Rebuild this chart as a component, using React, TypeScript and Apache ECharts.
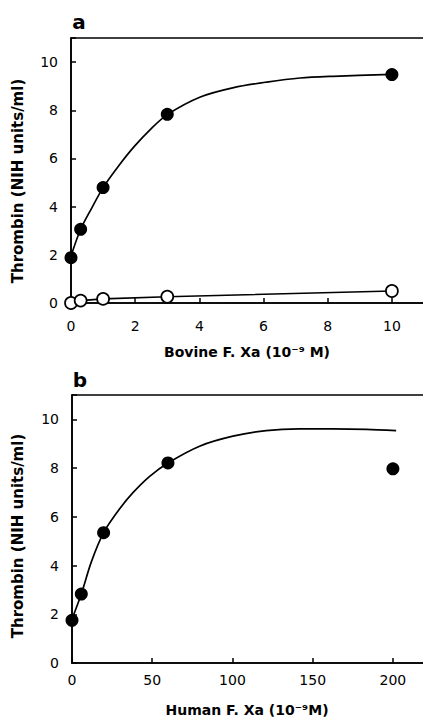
import React, { useEffect, useRef } from "react";
import * as echarts from "echarts";

// Panel a: bovine F. Xa (10^-9 M) vs thrombin (NIH units/ml)
const bovineX = [0, 0.3, 1, 3, 10];
const bovineFilled = [1.88, 3.06, 4.79, 7.83, 9.48];
const bovineOpen = [0, 0.1, 0.17, 0.26, 0.5];
const bovineCurveX = [0, 0.3, 0.65, 1, 1.5, 1.96, 2.5, 3, 4.03, 5.07, 6.1, 7.14, 8.17, 10];
const bovineCurveY = [1.95, 3.06, 3.95, 4.79, 5.72, 6.48, 7.24, 7.82, 8.55, 8.94, 9.17, 9.34, 9.41, 9.49];

// Panel b: human F. Xa (10^-9 M) vs thrombin
const humanX = [0, 5.8, 19.7, 59.8, 200];
const humanFilled = [1.75, 2.83, 5.35, 8.21, 7.97];
const humanCurveX = [0, 5.8, 12, 19.7, 29.6, 38, 48.4, 59.8, 79.5, 100.3, 121, 141.8, 162.6, 183.4, 202];
const humanCurveY = [1.8, 2.83, 4.14, 5.35, 6.32, 6.99, 7.66, 8.21, 8.9, 9.31, 9.54, 9.61, 9.61, 9.59, 9.54];

const yTicks = [0, 2, 4, 6, 8, 10];
const xTicksA = [0, 2, 4, 6, 8, 10];
const xTicksB = [0, 50, 100, 150, 200];

const FONT = "'DejaVu Sans', Verdana, sans-serif";

function pairs(xs: number[], ys: number[]) {
  return xs.map((x, i) => [x, ys[i]]);
}

export default function App() {
  const ref = useRef<HTMLDivElement>(null);
  useEffect(() => {
    if (!ref.current) return;
    const chart = echarts.init(ref.current, null, { renderer: "svg" });
    const axisCommon = {
      axisLine: { show: true, lineStyle: { color: "#000", width: 1.6 } },
      axisTick: { show: true, inside: true, length: 5, lineStyle: { color: "#000", width: 1.5 } },
      splitLine: { show: false },
    };
    const labelStyle = { color: "#000", fontSize: 14, fontFamily: FONT, fontWeight: "normal" as any };
    const fmt = (ticks: number[]) => (v: number) => (ticks.includes(v) ? String(v) : "");
    chart.setOption({
      animation: false,
      backgroundColor: "#fff",
      grid: [
        { left: 71, top: 38, width: 353, height: 265, show: true, borderColor: "#000", borderWidth: 1.6, backgroundColor: "transparent" },
        { left: 72, top: 395, width: 353, height: 268, show: true, borderColor: "#000", borderWidth: 1.6, backgroundColor: "transparent" },
      ],
      xAxis: [
        { type: "value", gridIndex: 0, min: 0, max: 11, interval: 2, ...axisCommon, axisLabel: { ...labelStyle, margin: 16, formatter: fmt(xTicksA) } },
        { type: "value", gridIndex: 1, min: 0, max: 220, interval: 50, ...axisCommon, axisLabel: { ...labelStyle, margin: 10, formatter: fmt(xTicksB) } },
      ],
      yAxis: [
        { type: "value", gridIndex: 0, min: 0, max: 11, interval: 2, ...axisCommon, axisLabel: { ...labelStyle, margin: 13, formatter: fmt(yTicks) } },
        { type: "value", gridIndex: 1, min: 0, max: 11, interval: 2, ...axisCommon, axisLabel: { ...labelStyle, margin: 13, formatter: fmt(yTicks) } },
      ],
      graphic: [
        { type: "text", x: 79, y: 22, style: { text: "a", font: `bold 20px ${FONT}`, fill: "#000", align: "center", verticalAlign: "middle" } },
        { type: "text", x: 80, y: 380, style: { text: "b", font: `bold 20px ${FONT}`, fill: "#000", align: "center", verticalAlign: "middle" } },
        { type: "text", x: 18, y: 181, rotation: Math.PI / 2, style: { text: "Thrombin (NIH units/ml)", font: `bold 15px ${FONT}`, fill: "#000", align: "center", verticalAlign: "middle" } },
        { type: "text", x: 18, y: 536, rotation: Math.PI / 2, style: { text: "Thrombin (NIH units/ml)", font: `bold 15px ${FONT}`, fill: "#000", align: "center", verticalAlign: "middle" } },
        { type: "text", x: 247, y: 352, style: { text: "Bovine F. Xa (10\u207B\u2079 M)", font: `bold 14px ${FONT}`, fill: "#000", align: "center", verticalAlign: "middle" } },
        { type: "text", x: 247, y: 710, style: { text: "Human F. Xa (10\u207B\u2079M)", font: `bold 14px ${FONT}`, fill: "#000", align: "center", verticalAlign: "middle" } },
      ],
      series: [
        {
          type: "line", xAxisIndex: 0, yAxisIndex: 0, data: pairs(bovineCurveX, bovineCurveY),
          smooth: 0.3, showSymbol: false, symbol: "none", lineStyle: { color: "#000", width: 1.7 }, z: 2,
        },
        {
          type: "scatter", xAxisIndex: 0, yAxisIndex: 0, data: pairs(bovineX, bovineFilled),
          symbol: "circle", symbolSize: 13, itemStyle: { color: "#000", opacity: 1 }, z: 4,
        },
        {
          type: "line", xAxisIndex: 0, yAxisIndex: 0, data: pairs(bovineX, bovineOpen),
          symbol: "circle", symbolSize: 12, showSymbol: true,
          lineStyle: { color: "#000", width: 1.6 },
          itemStyle: { color: "#fff", borderColor: "#000", borderWidth: 1.7, opacity: 1 }, z: 4,
        },
        {
          type: "line", xAxisIndex: 1, yAxisIndex: 1, data: pairs(humanCurveX, humanCurveY),
          smooth: 0.3, showSymbol: false, symbol: "none", lineStyle: { color: "#000", width: 1.7 }, z: 2,
        },
        {
          type: "scatter", xAxisIndex: 1, yAxisIndex: 1, data: pairs(humanX, humanFilled),
          symbol: "circle", symbolSize: 13, itemStyle: { color: "#000", opacity: 1 }, z: 4,
        },
      ],
    });
    return () => chart.dispose();
  }, []);
  return (
    <div style={{ position: "fixed", left: 0, top: 0, width: 423, height: 718, overflow: "hidden", background: "#fff" }}>
      <div ref={ref} style={{ width: 440, height: 718 }} />
    </div>
  );
}
